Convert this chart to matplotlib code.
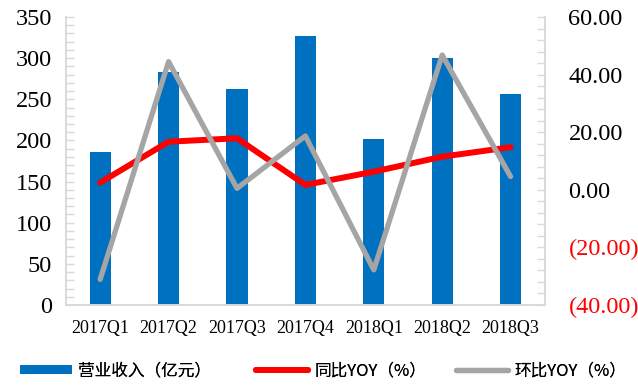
import matplotlib.pyplot as plt
import numpy as np
from matplotlib.ticker import MultipleLocator, FuncFormatter

plt.rcParams['font.family'] = ['Liberation Serif', 'Noto Sans CJK SC', 'DejaVu Sans']

# data
quarters = ['2017Q1', '2017Q2', '2017Q3', '2017Q4', '2018Q1', '2018Q2', '2018Q3']
revenue = [186, 283, 262, 327, 202, 300, 256]      # 营业收入（亿元）
yoy = [2.5, 16.7, 17.9, 1.7, 6.3, 11.5, 14.8]      # 同比YOY（%）
qoq = [-31.1, 44.5, 0.5, 18.7, -27.8, 46.8, 4.6]   # 环比YOY（%）

x = np.arange(len(quarters))
spine_c = '#D9D9D9'

fig = plt.figure(figsize=(6.38, 3.85), dpi=100)
ax = fig.add_axes([0.1034, 0.2078, 0.7505, 0.748])
ax2 = ax.twinx()

bars = ax.bar(x, revenue, width=0.31, color='#0070C0', zorder=2, label='营业收入（亿元）')
l_yoy, = ax2.plot(x, yoy, color='#FF0000', lw=4.3, solid_capstyle='round', zorder=3, label='同比YOY（%）')
l_qoq, = ax2.plot(x, qoq, color='#A5A5A5', lw=3.8, solid_capstyle='round', zorder=4, label='环比YOY（%）')

ax.set_zorder(1)
ax2.set_zorder(2)
ax.patch.set_visible(False)

ax.set_xlim(-0.5, 6.5)
ax.set_ylim(0, 350)
ax2.set_ylim(-40, 60)
ax.set_xticks(x)
ax.set_xticklabels(quarters, fontsize=13)

ax.yaxis.set_major_locator(MultipleLocator(50))
ax.yaxis.set_minor_locator(MultipleLocator(10))
ax2.yaxis.set_major_locator(MultipleLocator(20))
ax2.yaxis.set_minor_locator(MultipleLocator(4))

def fmt(v, pos):
    if v < 0:
        return '({:.2f})'.format(-v)
    return '{:.2f}'.format(v)

ax2.yaxis.set_major_formatter(FuncFormatter(fmt))

for a in (ax, ax2):
    for s in a.spines.values():
        s.set_color(spine_c)
        s.set_linewidth(1.2)
    a.spines['top'].set_visible(False)
    a.tick_params(axis='y', which='both', direction='in', color=spine_c, length=6, width=1, labelsize=17.5)

ax.tick_params(axis='x', length=0, pad=11)
ax.tick_params(axis='y', pad=10)
ax2.tick_params(axis='y', pad=17)
for lab in ax2.get_yticklabels():
    if lab.get_text().startswith('('):
        lab.set_color('#FF0000')

# one legend per entry so each sits where the reference has it
for handle, xpix in [(bars, 20), (l_yoy, 256), (l_qoq, 456)]:
    leg = fig.legend([handle], [handle.get_label()], loc='center left',
                     bbox_to_anchor=(xpix / 638, 14 / 385), frameon=False,
                     prop={'family': ['Noto Sans CJK SC', 'DejaVu Sans'], 'size': 12},
                     handlelength=3.1, handleheight=0.45, handletextpad=0.4,
                     borderpad=0, borderaxespad=0)
    fig.add_artist(leg)

fig.savefig('out.png', dpi=100)
